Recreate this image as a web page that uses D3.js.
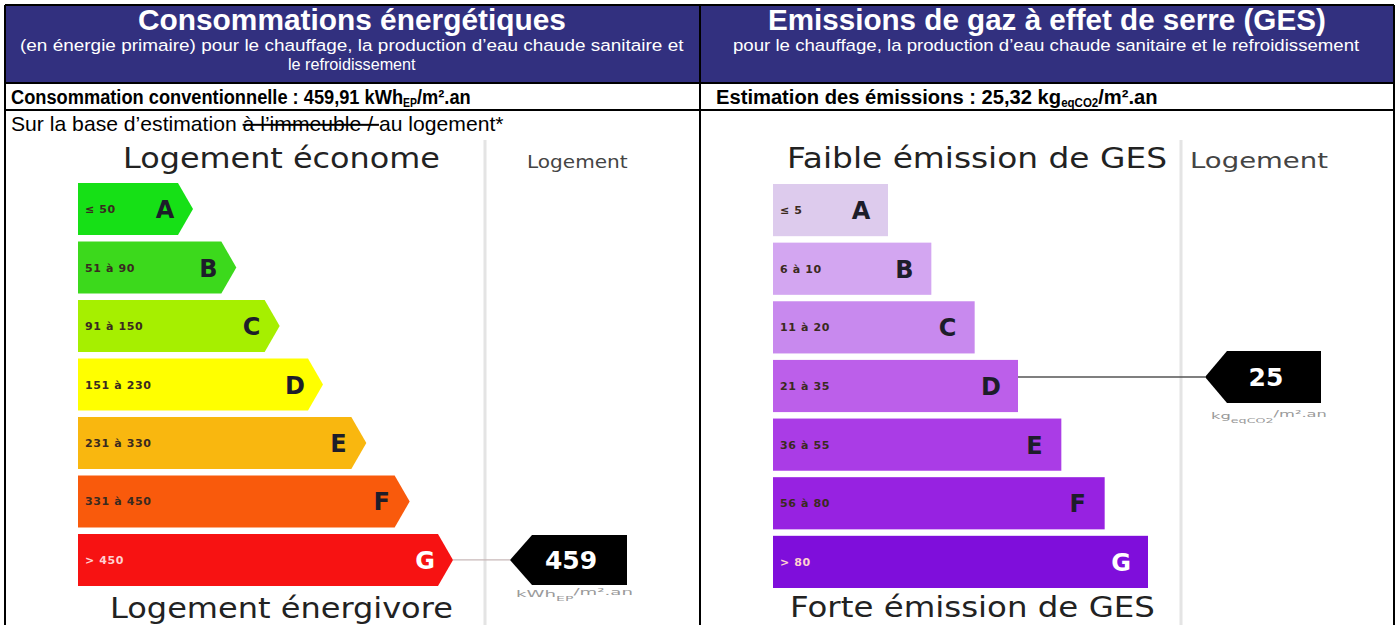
<!DOCTYPE html>
<html><head><meta charset="utf-8">
<script src="https://cdn.jsdelivr.net/npm/d3@7"></script>
<style>html,body{margin:0;padding:0;background:#fff;}svg{display:block;}</style>
</head><body>
<svg id="c" width="1397" height="625"></svg>
<script>
// ---------- data ----------
const classes = ["A","B","C","D","E","F","G"];
const energyThresholds = [50, 90, 150, 230, 330, 450];
const energyRanges = ["≤ 50","51 à 90","91 à 150","151 à 230","231 à 330","331 à 450","> 450"];
const energyColors = ["#16e016","#3cd91c","#a6ef00","#ffff00","#f9b70f","#f95a0c","#f71212"];
const gesThresholds = [5, 10, 20, 35, 55, 80];
const gesRanges = ["≤ 5","6 à 10","11 à 20","21 à 35","36 à 55","56 à 80","> 80"];
const gesColors = ["#ddcbed","#d3a6f1","#c889ee","#bc5fea","#aa3ce6","#9722e1","#7f0edb"];
const energyValue = 459.91;
const gesValue = 25.32;
const energyValueText = "459,91";
const gesValueText = "25,32";

const svg = d3.select("#c");
const FONT = "'Liberation Sans', Arial, sans-serif";
const CFONT = "'DejaVu Sans', Verdana, sans-serif";

function fitX(sel, x0, x1) {
  const b = sel.node().getBBox();
  const s = (x1 - x0) / b.width;
  sel.attr("x", 0).attr("text-anchor", "start")
     .attr("transform", `translate(${x0},0) scale(${s},1) translate(${-b.x},0)`);
}

// ---------- table ----------
const T = {l: 5, r: 1394, t: 5, mid: 700, h1: 83, h2: 110};
svg.append("rect").attr("x", T.l).attr("y", T.t).attr("width", T.r - T.l).attr("height", T.h1 - T.t)
   .attr("fill", "#32307f");
const lines = svg.append("g").attr("stroke", "#000").attr("stroke-width", 2);
lines.append("line").attr("x1", T.l).attr("x2", T.r).attr("y1", T.t).attr("y2", T.t);
lines.append("line").attr("x1", T.l).attr("x2", T.r).attr("y1", T.h1).attr("y2", T.h1);
lines.append("line").attr("x1", T.l).attr("x2", T.r).attr("y1", T.h2).attr("y2", T.h2);
[T.l, T.mid, T.r].forEach(x => lines.append("line").attr("x1", x).attr("x2", x).attr("y1", T.t).attr("y2", 640));

// header texts
function headText(txt, x0, x1, y, size, bold) {
  const t = svg.append("text").attr("y", y).attr("fill", "#fff")
    .style("font-family", FONT).style("font-size", size + "px").style("font-weight", bold ? "bold" : "normal").text(txt);
  fitX(t, x0, x1);
}
headText("Consommations énergétiques", 138, 566, 30, 29, true);
headText("(en énergie primaire) pour le chauffage, la production d’eau chaude sanitaire et", 20, 684, 51, 17, false);
headText("le refroidissement", 288, 416, 70, 17, false);
headText("Emissions de gaz à effet de serre (GES)", 768, 1326, 30, 29, true);
headText("pour le chauffage, la production d’eau chaude sanitaire et le refroidissement", 733, 1360, 51, 17, false);

// row 2
function row2(x0, x1, main, sub, tail) {
  const t = svg.append("text").attr("y", 104).attr("fill", "#000")
    .style("font-family", FONT).style("font-size", "21px").style("font-weight", "bold");
  t.append("tspan").text(main);
  t.append("tspan").attr("dy", 3).style("font-size", "12px").text(sub);
  t.append("tspan").attr("dy", -3).text(tail);
  fitX(t, x0, x1);
}
row2(11, 471, "Consommation conventionnelle : " + energyValueText + " kWh", "EP", "/m².an");
row2(716, 1158, "Estimation des émissions : " + gesValueText + " kg", "eqCO2", "/m².an");

// row 3
const r3 = svg.append("text").attr("y", 131).attr("fill", "#000")
  .style("font-family", FONT).style("font-size", "20px");
r3.append("tspan").text("Sur la base d’estimation ");
r3.append("tspan").style("text-decoration", "line-through").text("à l’immeuble / ");
r3.append("tspan").text("au logement*");
fitX(r3, 11, 504);

// ---------- label charts ----------
const widthScale = d3.scaleLinear().domain([1, 7]).range([115, 375]);

function chart(cfg) {
  const g = svg.append("g");
  const y = d3.scaleBand().domain(classes).range(cfg.yRange).paddingInner(0.11);
  // column separator
  g.append("line").attr("x1", cfg.sepX).attr("x2", cfg.sepX).attr("y1", 140).attr("y2", 625)
    .attr("stroke", "#e4e4e4").attr("stroke-width", 3);
  // titles
  const tt = g.append("text").attr("y", cfg.titleY).attr("fill", "#222")
    .style("font-family", CFONT).style("font-size", "28px").text(cfg.top);
  fitX(tt, cfg.topX[0], cfg.topX[1]);
  const bt = g.append("text").attr("y", cfg.bottomY).attr("fill", "#222")
    .style("font-family", CFONT).style("font-size", "28px").text(cfg.bottom);
  fitX(bt, cfg.bottomX[0], cfg.bottomX[1]);
  const lg = g.append("text").attr("y", cfg.titleY).attr("fill", "#444")
    .style("font-family", CFONT).style("font-size", cfg.logSize + "px").text("Logement");
  fitX(lg, cfg.logX[0], cfg.logX[1]);

  const bars = g.selectAll("g.bar").data(classes).join("g").attr("class", "bar");
  bars.each(function(c, i) {
    const sel = d3.select(this);
    const top = y(c), bh = y.bandwidth(), cy = top + bh / 2;
    const right = cfg.left + widthScale(i + 1);
    if (cfg.arrow) {
      const body = right - 15;
      sel.append("path")
        .attr("d", `M${cfg.left},${top}L${body},${top}L${right},${cy}L${body},${top + bh}L${cfg.left},${top + bh}Z`)
        .attr("fill", cfg.colors[i]);
    } else {
      sel.append("rect").attr("x", cfg.left).attr("y", top).attr("width", right - cfg.left).attr("height", bh)
        .attr("fill", cfg.colors[i]);
    }
    const light = i === 6;
    sel.append("text").attr("x", cfg.left + 7).attr("y", cy + 4)
      .attr("fill", light ? "#ffd0d0" : "#3a2a20")
      .style("font-family", CFONT).style("font-size", "11px").style("font-weight", "bold")
      .style("letter-spacing", "0.6px").text(cfg.ranges[i]);
    sel.append("text").attr("x", right - (cfg.arrow ? 28 : 27)).attr("y", cy + 9).attr("text-anchor", "middle")
      .attr("fill", light ? "#fff" : "#1d1d2a")
      .style("font-family", CFONT).style("font-size", "24px").style("font-weight", "bold").text(c);
  });

  // value tag
  const idx = d3.bisectLeft(cfg.thresholds, cfg.value);
  const cls = classes[idx];
  const cy = y(cls) + y.bandwidth() / 2 + cfg.tagOffset;
  const barEnd = cfg.left + widthScale(idx + 1);
  g.append("line").attr("x1", barEnd).attr("x2", cfg.tagX).attr("y1", cy).attr("y2", cy)
    .attr("stroke", cfg.lineColor).attr("stroke-width", 1.3);
  const w = cfg.tagW, h = cfg.tagH, d = 22;
  g.append("path")
    .attr("d", `M${cfg.tagX},${cy}L${cfg.tagX + d},${cy - h / 2}L${cfg.tagX + w},${cy - h / 2}L${cfg.tagX + w},${cy + h / 2}L${cfg.tagX + d},${cy + h / 2}Z`)
    .attr("fill", "#000");
  g.append("text").attr("x", cfg.tagX + 61).attr("y", cy + 9).attr("text-anchor", "middle")
    .attr("fill", "#fff").style("font-family", CFONT).style("font-size", "25px").style("font-weight", "bold")
    .text(Math.floor(cfg.value));
  const u = g.append("text").attr("y", cy + h / 2 + cfg.unitDy).attr("fill", "#9a9a9a")
    .style("font-family", CFONT).style("font-size", "9px");
  u.append("tspan").text(cfg.unit[0]);
  u.append("tspan").attr("dy", 4).style("font-size", "7px").text(cfg.unit[1]);
  u.append("tspan").attr("dy", -6).text(cfg.unit[2]);
  fitX(u, cfg.tagX + 6, cfg.tagX + w + 6);
}

chart({
  left: 78, yRange: [183, 586], sepX: 485, arrow: true,
  colors: energyColors, ranges: energyRanges, thresholds: energyThresholds, value: energyValue,
  top: "Logement économe", topX: [123, 440], titleY: 168,
  bottom: "Logement énergivore", bottomX: [110, 453], bottomY: 618,
  logX: [527, 628], logSize: 17,
  tagX: 510, tagW: 117, tagH: 50, tagOffset: 0, lineColor: "#c8b8b8", unitDy: 12,
  unit: ["kWh", "EP", "/m².an"]
});
chart({
  left: 773, yRange: [184, 588], sepX: 1181, arrow: false,
  colors: gesColors, ranges: gesRanges, thresholds: gesThresholds, value: gesValue,
  top: "Faible émission de GES", topX: [787, 1167], titleY: 168,
  bottom: "Forte émission de GES", bottomX: [790, 1155], bottomY: 617,
  logX: [1190, 1328], logSize: 21,
  tagX: 1205, tagW: 116, tagH: 52, tagOffset: -9, lineColor: "#555", unitDy: 16,
  unit: ["kg", "eqCO2", "/m².an"]
});
</script>
</body></html>
